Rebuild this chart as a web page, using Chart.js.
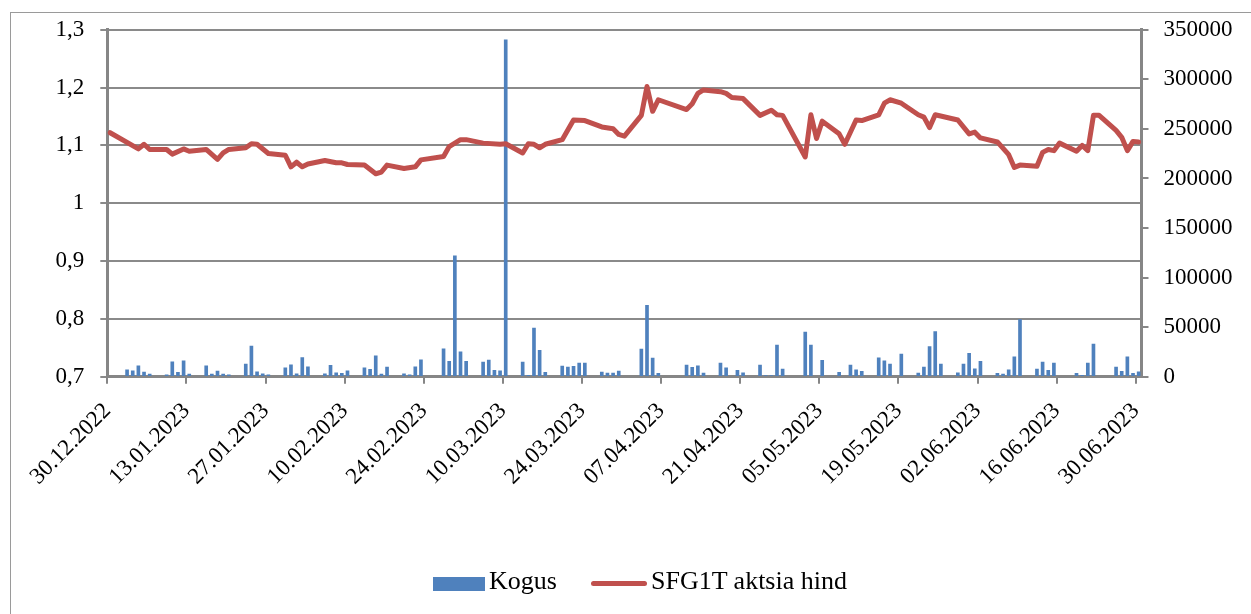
<!DOCTYPE html>
<html>
<head>
<meta charset="utf-8">
<script src="https://cdn.jsdelivr.net/npm/chart.js@4.4.0/dist/chart.umd.min.js"></script>
<style>
html,body{margin:0;padding:0;background:#fff;width:1251px;height:614px;overflow:hidden;}
#wrap{position:relative;width:1251px;height:614px;}
#frame{position:absolute;left:10px;top:12px;width:1260px;height:620px;border-left:1.5px solid #9a9a9a;border-top:1.5px solid #9a9a9a;}
#chart{position:absolute;left:0;top:0;}
.lg{position:absolute;font-family:"Liberation Serif","Times New Roman",serif;font-size:26px;line-height:26px;color:#000;white-space:nowrap;}
</style>
</head>
<body>
<div id="wrap">
  <div id="frame"></div>
  <canvas id="chart" width="1251" height="614"></canvas>
  <div style="position:absolute;left:433px;top:577px;width:52px;height:14px;background:#4F81BD;"></div>
  <div class="lg" style="left:489px;top:568px;">Kogus</div>
  <div style="position:absolute;left:591px;top:581px;width:56px;height:5px;border-radius:3px;background:#C0504D;"></div>
  <div class="lg" style="left:651px;top:568px;">SFG1T aktsia hind</div>
</div>
<script>
// ---- data ----
const xTickLabels = ['30.12.2022','13.01.2023','27.01.2023','10.02.2023','24.02.2023','10.03.2023','24.03.2023','07.04.2023','21.04.2023','05.05.2023','19.05.2023','02.06.2023','16.06.2023','30.06.2023'];
const leftTickValues = [0.7,0.8,0.9,1.0,1.1,1.2,1.3];
const leftTickLabels = ['0,7','0,8','0,9','1','1,1','1,2','1,3'];
const rightTickValues = [0,50000,100000,150000,200000,250000,300000,350000];

const priceDates = ['2022-12-30','2023-01-04','2023-01-05','2023-01-06','2023-01-09','2023-01-10','2023-01-12','2023-01-13','2023-01-16','2023-01-18','2023-01-19','2023-01-20','2023-01-23','2023-01-24','2023-01-25','2023-01-27','2023-01-30','2023-01-31','2023-02-01','2023-02-02','2023-02-03','2023-02-06','2023-02-08','2023-02-09','2023-02-10','2023-02-13','2023-02-15','2023-02-16','2023-02-17','2023-02-20','2023-02-22','2023-02-23','2023-02-27','2023-02-28','2023-03-02','2023-03-03','2023-03-06','2023-03-09','2023-03-10','2023-03-13','2023-03-14','2023-03-15','2023-03-16','2023-03-17','2023-03-20','2023-03-22','2023-03-24','2023-03-27','2023-03-29','2023-03-30','2023-03-31','2023-04-03','2023-04-04','2023-04-05','2023-04-06','2023-04-11','2023-04-12','2023-04-13','2023-04-14','2023-04-17','2023-04-18','2023-04-19','2023-04-21','2023-04-24','2023-04-26','2023-04-27','2023-04-28','2023-05-02','2023-05-03','2023-05-04','2023-05-05','2023-05-08','2023-05-09','2023-05-11','2023-05-12','2023-05-15','2023-05-16','2023-05-17','2023-05-19','2023-05-22','2023-05-23','2023-05-24','2023-05-25','2023-05-29','2023-05-31','2023-06-01','2023-06-02','2023-06-05','2023-06-07','2023-06-08','2023-06-09','2023-06-12','2023-06-13','2023-06-14','2023-06-15','2023-06-16','2023-06-19','2023-06-20','2023-06-21','2023-06-22','2023-06-23','2023-06-26','2023-06-27','2023-06-28','2023-06-29','2023-06-30'];
const priceValues = [1.122,1.094,1.102,1.093,1.093,1.085,1.094,1.090,1.093,1.076,1.087,1.093,1.096,1.103,1.102,1.086,1.083,1.063,1.071,1.063,1.068,1.074,1.070,1.070,1.067,1.066,1.051,1.054,1.066,1.060,1.063,1.075,1.081,1.098,1.110,1.110,1.104,1.102,1.103,1.087,1.103,1.102,1.096,1.102,1.110,1.144,1.143,1.132,1.129,1.119,1.116,1.152,1.202,1.159,1.179,1.162,1.172,1.190,1.196,1.193,1.190,1.183,1.181,1.152,1.161,1.153,1.152,1.080,1.153,1.112,1.142,1.120,1.102,1.144,1.143,1.153,1.173,1.179,1.173,1.153,1.149,1.131,1.153,1.144,1.120,1.123,1.113,1.106,1.084,1.062,1.066,1.064,1.088,1.093,1.091,1.104,1.090,1.100,1.091,1.152,1.152,1.126,1.114,1.091,1.107,1.106];

const volumeDates = ['2023-01-02','2023-01-03','2023-01-04','2023-01-05','2023-01-06','2023-01-09','2023-01-10','2023-01-11','2023-01-12','2023-01-13','2023-01-16','2023-01-17','2023-01-18','2023-01-19','2023-01-20','2023-01-23','2023-01-24','2023-01-25','2023-01-26','2023-01-27','2023-01-30','2023-01-31','2023-02-01','2023-02-02','2023-02-03','2023-02-06','2023-02-07','2023-02-08','2023-02-09','2023-02-10','2023-02-13','2023-02-14','2023-02-15','2023-02-16','2023-02-17','2023-02-20','2023-02-21','2023-02-22','2023-02-23','2023-02-27','2023-02-28','2023-03-01','2023-03-02','2023-03-03','2023-03-06','2023-03-07','2023-03-08','2023-03-09','2023-03-10','2023-03-13','2023-03-14','2023-03-15','2023-03-16','2023-03-17','2023-03-20','2023-03-21','2023-03-22','2023-03-23','2023-03-24','2023-03-27','2023-03-28','2023-03-29','2023-03-30','2023-04-03','2023-04-04','2023-04-05','2023-04-06','2023-04-11','2023-04-12','2023-04-13','2023-04-14','2023-04-17','2023-04-18','2023-04-20','2023-04-21','2023-04-24','2023-04-25','2023-04-26','2023-04-27','2023-04-28','2023-05-02','2023-05-03','2023-05-05','2023-05-08','2023-05-10','2023-05-11','2023-05-12','2023-05-15','2023-05-16','2023-05-17','2023-05-19','2023-05-22','2023-05-23','2023-05-24','2023-05-25','2023-05-26','2023-05-29','2023-05-30','2023-05-31','2023-06-01','2023-06-02','2023-06-05','2023-06-06','2023-06-07','2023-06-08','2023-06-09','2023-06-12','2023-06-13','2023-06-14','2023-06-15','2023-06-19','2023-06-20','2023-06-21','2023-06-22','2023-06-26','2023-06-27','2023-06-28','2023-06-29','2023-06-30'];
const volumeValues = [7000,6000,11000,4700,2700,2000,15000,4400,16000,2700,11000,2700,5700,2700,2000,12700,31000,5000,3000,2000,9000,12000,3000,19400,10000,3000,11400,4000,3400,6000,9000,7400,21000,2700,9700,3000,2000,10000,17000,28000,15400,122000,25000,15400,14700,16700,6400,6000,340000,14700,1300,49000,26500,4400,10700,9700,10400,13700,13700,4700,3700,3700,5700,27800,72000,18800,3400,11700,9400,11000,3700,13700,9000,6400,4000,11700,1000,1000,32000,7700,45000,31800,16400,4400,11700,7000,5400,19000,16000,12700,22800,3700,9700,30500,45600,12700,4000,12700,23500,8000,15400,3400,2700,7000,20000,57600,7700,14700,6400,13700,3400,1300,13700,33000,9700,5400,20000,3400,5000];

// ---- helpers ----
const ORIGIN = Date.UTC(2022, 11, 30);
function dayOfISO(s){ const p = s.split('-').map(Number); return (Date.UTC(p[0], p[1]-1, p[2]) - ORIGIN) / 86400000; }
function dayOfDMY(s){ const p = s.split('.').map(Number); return (Date.UTC(p[2], p[1]-1, p[0]) - ORIGIN) / 86400000; }

const FONT = {family: '"Liberation Serif", "Times New Roman", serif', size: 23};
const AXIS = '#868686';
const GRID = '#8a8a8a';

const barData = volumeDates.map((d, i) => ({x: dayOfISO(d) + 0.5, y: volumeValues[i]}));
const lineData = priceDates.map((d, i) => ({x: dayOfISO(d) + 0.5, y: priceValues[i]}));

new Chart(document.getElementById('chart'), {
  type: 'bar',
  data: {
    datasets: [
      {
        type: 'line', label: 'SFG1T aktsia hind', data: lineData, yAxisID: 'y',
        borderColor: '#C0504D', backgroundColor: '#C0504D', borderWidth: 5,
        pointRadius: 0, tension: 0, borderJoinStyle: 'round', borderCapStyle: 'round', order: 1
      },
      {
        type: 'bar', label: 'Kogus', data: barData, yAxisID: 'y1',
        backgroundColor: '#4F81BD', barThickness: 3, order: 2
      }
    ]
  },
  options: {
    responsive: false,
    animation: false,
    layout: {padding: {left: 0, right: 0, top: 29, bottom: 0}},
    plugins: {legend: {display: false}, tooltip: {enabled: false}},
    scales: {
      x: {
        type: 'linear', min: 0, max: 183, offset: false,
        afterBuildTicks: s => { s.ticks = xTickLabels.map(l => ({value: dayOfDMY(l)})); },
        afterFit: s => { s.height = 237.3; },
        ticks: {
          autoSkip: false, maxRotation: 45, minRotation: 45, padding: 14,
          color: '#000', font: FONT,
          callback: (v, i) => xTickLabels[i]
        },
        grid: {drawOnChartArea: false, drawTicks: true, tickLength: 7, color: AXIS, lineWidth: 2, offset: false},
        border: {color: AXIS, width: 3}
      },
      y: {
        position: 'left', min: 0.7, max: 1.3,
        afterBuildTicks: s => { s.ticks = leftTickValues.map(v => ({value: v})); },
        afterFit: s => { s.width = 107.3; },
        ticks: {color: '#000', font: FONT, padding: 16, callback: (v, i) => leftTickLabels[i]},
        grid: {color: GRID, lineWidth: 2, drawTicks: true, tickLength: 7},
        border: {color: AXIS, width: 3}
      },
      y1: {
        position: 'right', min: 0, max: 350000,
        afterBuildTicks: s => { s.ticks = rightTickValues.map(v => ({value: v})); },
        afterFit: s => { s.width = 109.5; },
        ticks: {color: '#000', font: FONT, padding: 15, callback: v => String(v)},
        grid: {drawOnChartArea: false, drawTicks: true, tickLength: 7, color: AXIS, lineWidth: 2},
        border: {color: AXIS, width: 3}
      }
    }
  }
});
</script>
</body>
</html>
